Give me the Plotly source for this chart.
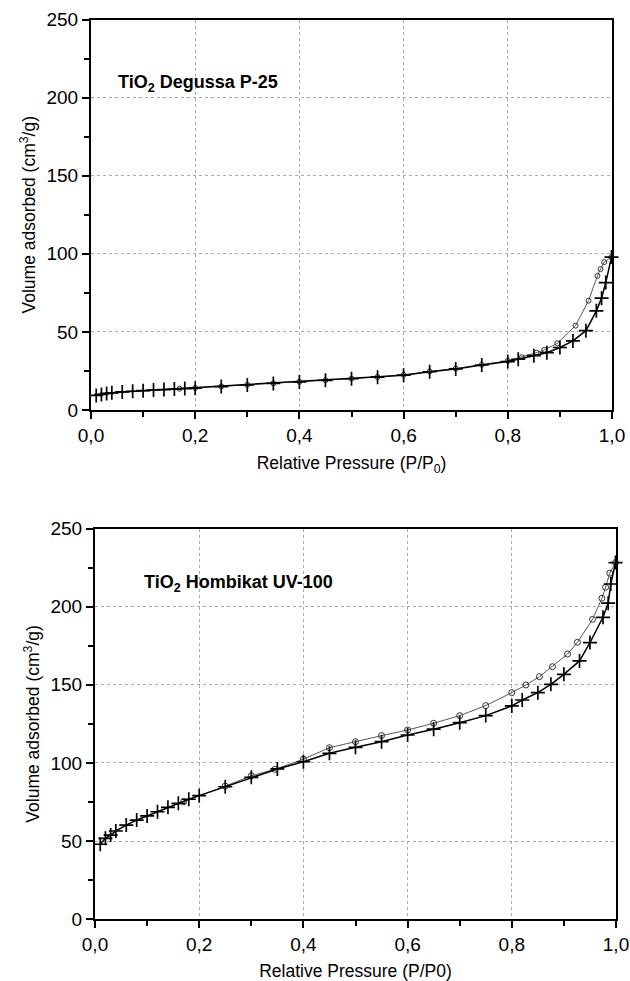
import plotly.graph_objects as go

# ---------------- data ----------------
# TiO2 Degussa P-25
p25_ads_p = [0.01, 0.02, 0.03, 0.04, 0.06, 0.08, 0.10, 0.12, 0.14, 0.16, 0.18, 0.20,
             0.25, 0.30, 0.35, 0.40, 0.45, 0.50, 0.55, 0.60, 0.65, 0.70, 0.75, 0.80,
             0.82, 0.85, 0.875, 0.90, 0.925, 0.95, 0.97, 0.98, 0.988, 0.999]
p25_ads_v = [9.3, 10.0, 10.6, 11.0, 11.6, 12.0, 12.4, 12.8, 13.1, 13.4, 13.7, 14.0,
             15.0, 16.0, 17.0, 18.0, 19.0, 20.0, 21.0, 22.3, 24.5, 26.3, 28.8, 31.0,
             32.5, 34.8, 36.7, 40.0, 44.2, 50.8, 63.5, 71.6, 81.6, 97.9]
p25_des_p = [0.999, 0.985, 0.978, 0.972, 0.955, 0.93, 0.895, 0.87, 0.855, 0.827, 0.80,
             0.75, 0.70, 0.65, 0.60, 0.55, 0.50, 0.45, 0.40, 0.35, 0.30, 0.25, 0.20, 0.17]
p25_des_v = [97.9, 94.7, 90.2, 85.9, 70.0, 54.0, 42.7, 38.5, 36.7, 33.8, 31.5,
             29.0, 26.5, 24.7, 22.5, 21.1, 20.1, 19.1, 18.1, 17.1, 16.1, 15.1, 14.1, 13.6]

# TiO2 Hombikat UV-100
uv_ads_p = [0.01, 0.02, 0.03, 0.04, 0.06, 0.08, 0.10, 0.12, 0.14, 0.16, 0.18, 0.20,
            0.25, 0.30, 0.35, 0.40, 0.45, 0.50, 0.55, 0.60, 0.65, 0.70, 0.75, 0.80,
            0.82, 0.85, 0.875, 0.90, 0.93, 0.95, 0.975, 0.985, 0.99, 0.999]
uv_ads_v = [48.0, 51.8, 53.9, 56.5, 60.3, 63.5, 66.1, 68.8, 71.6, 74.2, 76.8, 79.1,
            84.8, 90.8, 96.2, 100.8, 106.2, 110.0, 113.6, 117.9, 121.6, 125.8, 130.3, 136.5,
            140.3, 145.0, 150.3, 156.7, 165.3, 177.0, 193.2, 202.2, 214.5, 228.2]
uv_des_p = [0.999, 0.988, 0.98, 0.973, 0.955, 0.926, 0.907, 0.878, 0.853, 0.827, 0.80,
            0.75, 0.70, 0.65, 0.60, 0.55, 0.50, 0.45, 0.40, 0.345, 0.30, 0.25, 0.17]
uv_des_v = [228.2, 221.4, 212.4, 205.4, 191.9, 177.2, 169.7, 161.6, 155.2, 149.9, 145.0,
            136.7, 130.3, 125.4, 121.1, 117.5, 113.6, 109.8, 102.4, 95.9, 91.8, 85.2, 75.2]

x_tickvals = [0.0, 0.2, 0.4, 0.6, 0.8, 1.0]
x_ticktext = ["0,0", "0,2", "0,4", "0,6", "0,8", "1,0"]
y_tickvals = [0, 50, 100, 150, 200, 250]
y_ticktext = ["0", "50", "100", "150", "200", "250"]

FONT = "Liberation Sans, Arial, sans-serif"

fig = go.Figure()

def add_pair(ads_p, ads_v, des_p, des_v, xa, ya, csize):
    fig.add_trace(go.Scatter(
        x=des_p, y=des_v, xaxis=xa, yaxis=ya, mode="lines+markers",
        line=dict(color="#444444", width=0.9),
        marker=dict(symbol="circle-open", size=csize, color="#333333", line=dict(width=1)),
        showlegend=False, cliponaxis=False))
    fig.add_trace(go.Scatter(
        x=ads_p, y=ads_v, xaxis=xa, yaxis=ya, mode="lines+markers",
        line=dict(color="black", width=1.5),
        marker=dict(symbol="cross-thin", size=10, color="black", line=dict(width=1.7, color="black")),
        showlegend=False, cliponaxis=False))

add_pair(p25_ads_p, p25_ads_v, p25_des_p, p25_des_v, "x", "y", 5)
add_pair(uv_ads_p, uv_ads_v, uv_des_p, uv_des_v, "x2", "y2", 6)

W, H = 630, 981

def xax(domain, anchor, title):
    return dict(domain=domain, anchor=anchor, range=[0, 1], automargin=False,
                tickvals=x_tickvals, ticktext=x_ticktext,
                ticks="outside", ticklen=7, tickwidth=1.5, tickcolor="black",
                minor=dict(ticks="outside", ticklen=5, tickwidth=1.5, tickcolor="black",
                           dtick=0.1, tick0=0, showgrid=False),
                showline=True, linewidth=2, linecolor="black", mirror=True,
                showgrid=True, gridcolor="#aaaaaa", gridwidth=0.8, griddash="dot",
                zeroline=False,
                tickfont=dict(family=FONT, size=19, color="black"),
                title=dict(text=title, font=dict(family=FONT, size=17.5, color="black"),
                           standoff=12))

def yax(domain, anchor):
    return dict(domain=domain, anchor=anchor, range=[0, 250], automargin=False,
                tickvals=y_tickvals, ticktext=y_ticktext,
                ticks="outside", ticklen=7, tickwidth=1.5, tickcolor="black",
                minor=dict(ticks="outside", ticklen=5, tickwidth=1.5, tickcolor="black",
                           dtick=25, tick0=0, showgrid=False),
                showline=True, linewidth=2, linecolor="black", mirror=True,
                showgrid=True, gridcolor="#aaaaaa", gridwidth=0.8, griddash="dot",
                zeroline=False,
                tickfont=dict(family=FONT, size=19, color="black"),
                title=dict(text="Volume adsorbed (cm<sup>3</sup>/g)",
                           font=dict(family=FONT, size=17.5, color="black"), standoff=6))

fig.update_layout(
    width=W, height=H,
    margin=dict(l=0, r=0, t=0, b=0, autoexpand=False),
    paper_bgcolor="white", plot_bgcolor="white",
    xaxis=xax([91 / W, 612 / W], "y", "Relative Pressure (P/P<sub>0</sub>)"),
    yaxis=yax([1 - 410 / H, 1 - 19.5 / H], "x"),
    xaxis2=xax([95 / W, 616 / W], "y2", "Relative Pressure (P/P0)"),
    yaxis2=yax([1 - 919.3 / H, 1 - 528.5 / H], "x2"),
    annotations=[
        dict(text="<b>TiO<sub>2</sub> Degussa P-25</b>", xref="paper", yref="paper",
             x=116 / W, y=1 - 84 / H, xanchor="left", yanchor="middle", showarrow=False,
             font=dict(family=FONT, size=18, color="black")),
        dict(text="<b>TiO<sub>2</sub> Hombikat UV-100</b>", xref="paper", yref="paper",
             x=142 / W, y=1 - 583 / H, xanchor="left", yanchor="middle", showarrow=False,
             font=dict(family=FONT, size=18, color="black")),
    ],
)

fig.write_html("out.html",
               config={"displayModeBar": False},
               post_script="document.body.style.margin='0px';"
                           "document.body.style.overflow='hidden';")
